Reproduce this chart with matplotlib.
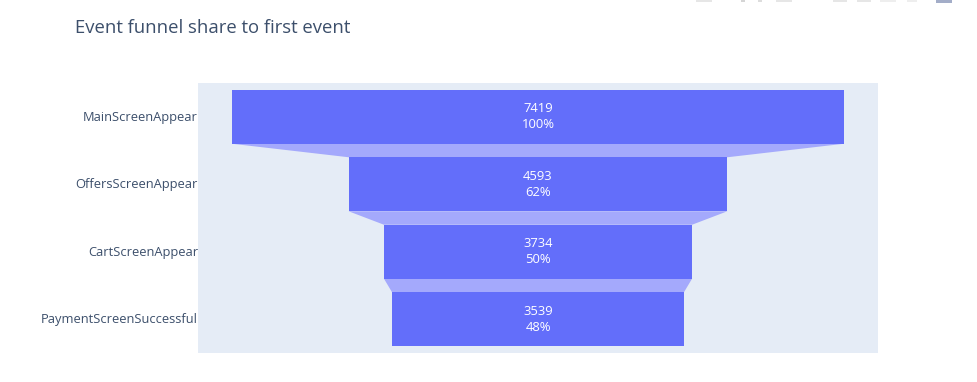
import matplotlib
matplotlib.use("Agg")
import matplotlib.pyplot as plt
from matplotlib.patches import Polygon, Rectangle
from matplotlib.transforms import ScaledTranslation

stages = ["MainScreenAppear", "OffersScreenAppear", "CartScreenAppear", "PaymentScreenSuccessful"]
counts = [7419, 4593, 3734, 3539]
shares = ["100%", "62%", "50%", "48%"]

W, H = 977, 382
fig = plt.figure(figsize=(W/100, H/100), dpi=100, facecolor="white")
ax = fig.add_axes([198/W, 1-353/H, (878-198)/W, (353-83)/H])
ax.set_facecolor("#E5ECF6")
half = counts[0]/2/0.9
ax.set_xlim(-half, half)
ax.set_ylim(3.5, -0.5)
bh = 0.8
for i, (c, s) in enumerate(zip(counts, shares)):
    ax.barh(i, c, height=bh, left=-c/2, color="#636EFA", zorder=2)
    ax.text(0, i, f"{c}\n{s}", color="white", ha="center", va="center",
            fontsize=9.4, family="Open Sans", linespacing=1.32, zorder=3)
    if i < len(counts)-1:
        n = counts[i+1]
        ax.add_patch(Polygon([(-c/2, i+bh/2), (c/2, i+bh/2), (n/2, i+1-bh/2), (-n/2, i+1-bh/2)],
                             closed=True, facecolor="#A4A9FC", edgecolor="none", zorder=1))
ax.set_xticks([])
ax.set_yticks(range(len(stages)))
ax.set_yticklabels(stages, fontsize=9.3, family="Open Sans", color="#3C4F6B")
ax.tick_params(axis="y", length=0, pad=0)
shift = ScaledTranslation(0, 1/100, fig.dpi_scale_trans)
for lab in ax.get_yticklabels():
    lab.set_transform(lab.get_transform() + shift)
for sp in ax.spines.values():
    sp.set_visible(False)
fig.text(75/W, 1-28/H, "Event funnel share to first event", fontsize=13.35, family="Open Sans",
         color="#3C4F6B", ha="left", va="center")

# faint, cropped toolbar remnants along the top edge
for x0, x1, h, col in [(696, 712, 2, "#E6E6E6"), (741, 745, 2, "#D5D5D5"), (758, 762, 2, "#DDDDDD"),
                       (776, 792, 2, "#E6E6E6"), (833, 847, 2, "#E6E6E6"), (857, 871, 2, "#E6E6E6"),
                       (880, 896, 2, "#EEEEEE"), (907, 917, 2, "#EEEEEE"), (936, 952, 3, "#A3ADC8")]:
    fig.add_artist(Rectangle((x0/W, 1-h/H), (x1-x0)/W, h/H, transform=fig.transFigure,
                             facecolor=col, edgecolor="none"))
fig.savefig("out.png", dpi=100)
